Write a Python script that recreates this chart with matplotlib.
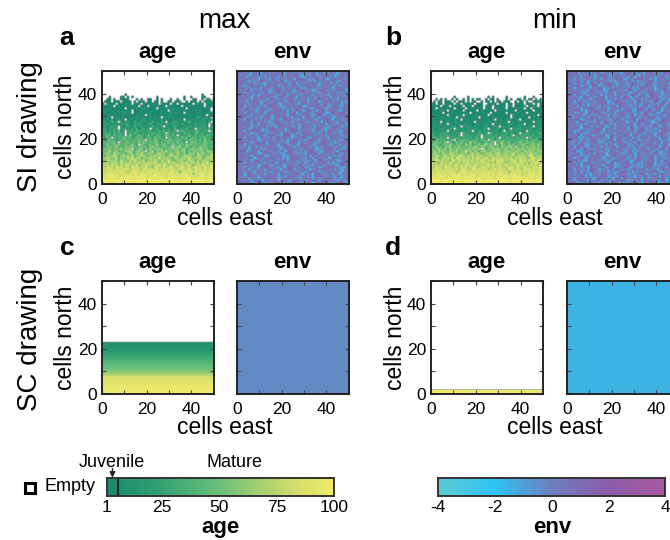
import numpy as np
import matplotlib
matplotlib.use("Agg")
import matplotlib.pyplot as plt
from matplotlib.colors import LinearSegmentedColormap, Normalize
from matplotlib.patches import Rectangle

plt.rcParams["font.family"] = ["Liberation Sans", "DejaVu Sans"]

FIG_W, FIG_H = 670, 540
N_CELLS = 50

# ---------------------------------------------------------------------------
# Landscape snapshots (50 x 50 cells). Strings are listed north (top) to south.
# Age codes: '.' = empty cell, digit d = age 1 + 11*d.  Rows above the list are empty.
si_max_age = [
    "..........0.................................0.....",
    "...0....00.0.0..........0...........0..0....00....",
    "..00.0..0000...0.0..00..0.0...0..0..0...00..0.00.0",
    ".000.000.0000.0.000.00.00.0..00.000..0.000.0.0000.",
    "0.0000.000010.000.0000000.0000.00.000000.0000.0000",
    "00001.0100000000.000.0001000.000000.000100000.0000",
    "0001000000.0000100200000.000000100000.0000010000.0",
    "1000000100000.000100001000000.000000100000010000.0",
    "0100010002100.0001000100001000201000.0100010000100",
    "0010101000010001000.01010010010001000101001000.010",
    "1001.011020001011010010100.101100100101001210110.1",
    "0110201101.0110101210101011010010110.1011010211010",
    "1201312.20121031120211302121.1023110213201121302.1",
    "21310210213201213110231021203122121310201312211.12",
    "1202312.2012103112021130212.1102311021320112130.21",
    "2212132.2231121302312.2131221302312213112.23212312",
    "3212232412.2321423122312232413223.2431322341232.32",
    "2323142332.23242213232423322.423223142322432312322",
    "2343242332.2532343224332432353242.322343242332432",
    "3243.32425343234342343253432.43234253423432435232",
    "3435342343524343534.34354234345343523435343425343",
    "4343543.43453434536434354343453435343.34543435434",
    "3454354634534543.5434534634543454354364535434543",
    "4354546343545643545435645345435.45634543543645434",
    "4546354564565.3456354645565345465545634564565453",
    "5456456354657545645.45635465745456456354564564565",
    "4565475645356546575465546756456547546356547565456",
    "5465676457565745676546575665457656456765547654657",
    "5676567465576856745667656857665476567586566745676",
    "6567566476557686567456676575686456765576646567657",
    "6765767586667576857677686567586765676857667576867",
    "7676867576786768576876767868757678676786567687768",
    "7687768786776878677867487768678767787686787768778",
    "7787868778786787768878778677878776887787687878778",
    "8778787887767888787787887878778878478788787878788",
    "8788878788878788788878788878788878788878587888788",
    "8888988878889888898878898888788898888988878898888",
    "9889898898898988989899889898898989889898989898898",
    "9999899989999899999899989999989999899999899998999",
    "99999999999999999999999999999999999999999999999999",
]

si_min_age = [
    "..................................................",
    "..........0.....0........0.0.....0.......0...0....",
    "..0.0.0..0.0..0.0.0.00..0.00.0...0.0..00.0.00.0.0.",
    ".0.00.000.0.000.0.00..0.00.0.00.000..0.00.0..0000.",
    "00.00.0000.00.00000.000..0000.000.00.0000.000.0.00",
    "0000.000.00000.000.0000.000.00000.00.00000.0000.00",
    "00.0000100.0000.0000000.000.00000.0000100.00.00000",
    "0000100.000000.00000.0100000.00000000.0000000.0000",
    "00010.00010000000.00000100.000100.00001000.0000010",
    "0100000.000100.0000100000.000000010.00001000010.00",
    "00100100200.010000010.0010020100000.1000100.010001",
    "1000101100200.01001010000101.0010120011.0010100101",
    "0110.01210110100101.10101200101011.0101101001.0120",
    "1101201.1011101201011101102.0111011210111.01101110",
    "1211011012101.1121011011201121.11120111211012.1110",
    "1102121121.21120211211012.111211201.1212112120112",
    "2121201.2122112121.2021212212202.122121201.212221",
    "2212132212122.32212123212.3212122312212.22322213",
    "3212322312213.22322132.2232231223213.22233222312",
    "2332323.32332233231332.3233323.32332233232.33232",
    "3243342334.24343423342443.34243342343243434243433",
    "3454436.43253534364534235345.346345234354364453443",
    "4543345364354526453445356454.53643545344653455464",
    "4464435563546354454654653465453645564.53546456454",
    "5456546365465545646556.63546565465456465654656564",
    "5646565465564557564653665465656456655665465665466",
    "5665465567564656367566456665676566567556656675645",
    "6576567567658765767576756686576567567576765786576",
    "6675576767587676757687678658767767685767776587667",
    "6787676758768778677676876778687867677768786778687",
    "7765767587667576857677786767587765677857767576867",
    "7676867776786768776876767868777678676787767687768",
    "7687768786776878677867787768678767787686787768778",
    "7787868778786787768878778677878776887787687878778",
    "8778787887767888787787887878778878578788787878788",
    "8788878788878788788878788878788878788878687888788",
    "8888988878889888898878898888788898888988878898888",
    "9889898898898988989899889898898989889898989898898",
    "9999899989999899999899989999989999899999899998999",
    "99999999999999999999999999999999999999999999999999",
]

# Environment codes: digit d = env value (d - 4.5) / 2.  North (top) to south.
si_max_env = [
    "56645726451657465547625645715646475356264575146657",
    "74556127554466376565147755662443657156675543267564",
    "45671555463727455616647557642165556744765361557446",
    "66547745615564377266544571676553426654711657554463",
    "55764162557764455637715465546655271746566455326674",
    "47556674355216654765574367154455767614557264476551",
    "65415577466537746615564455726667445517664753625576",
    "76654453671665547756264455671337655464575416657445",
    "54766715445566327574456651667745521566744653756615",
    "66527456673455164775546623655744765516674457252665",
    "45675562714476566354771665543675527665441767556327",
    "77456615546657743256645767155466372564677155465547",
    "56674427655651676445537672465561745576635744166575",
    "64551766744265537745616675547662546715576646653427",
    "55766345571667456632774556415674765562774455671653",
    "47615576654427667551347665576215566744761557432665",
    "66457725516674457665245517766455326677415466755742",
    "75564467157652446775561744665267545166744675512766",
    "56726655447615776544662757154665437766512575566744",
    "44675517664456726675541766435576624577165445776651",
    "67554466272556714665775425666177445536774612566475",
    "56617745563746615542776654417665573264577516654467",
    "75466527755644167765436615577442675561747655264457",
    "46675544716675523776644557614666725547716554366715",
    "65547716546672455177665643725566471766542557761644",
    "57765246657154677455624765715566443776215567446657",
    "66415577664252667746515577643665716644527765541766",
    "45766614557762445671667546235776654417756644526775",
    "76654457265517766442577615564476673554617765562446",
    "56627745516654472776665514457762266745571664455736",
    "65544667712557644665371576654427765516774456623575",
    "47766524475661775544632766715546674257765541566744",
    "66715546677542665517754466327765541667755246617756",
    "55466277154467765532677461556774455261776654457165",
    "74655166774425576661547765433766752146576674552466",
    "56772455616677445525716764455627776441566755247765",
    "65446677521665774455167765443527766715546647752566",
    "47765514667732455766142776655446175577664452617765",
    "66554772166455777446251676655437716654472265577641",
    "55647715664477256645571776644352661577445766215567",
    "76615546677425566147766455327716664455772615447766",
    "54477665512766445577136654477265516677445562177654",
    "66725445716677554426617765547732665514477665524176",
    "45566177445627765541766772455664135766774452661577",
    "77445661576654427765516677445625776614456677521664",
    "56617744556627745516674457763265517766445527716654",
    "65524776615544677625517766445572616677544562771566",
    "46677155442677665514776645532766715544667752614577",
    "67455627766155447726655177664425576617744565277164",
    "55766441577625546677145566772455614776654425667715",
]

si_min_env = [
    "65477156642557614667455216677544652776615447567724",
    "47566274455716677542156644775562471665574436657715",
    "76645517766524476651775546627714456675524677164455",
    "55716644775526617745546672155467764452717665447566",
    "64457726615547766452617745566271446657715564762547",
    "77624556617745526677451566247765541677264556617745",
    "46657714552667145577642665517744627765516446772156",
    "65514677442566771545276644557162677445516677425564",
    "57746625517744662157765445267716554476615527744665",
    "44675561277654457166427755641576625477654415667725",
    "66527744615576624457716654427755166247756615446772",
    "75564417766524577164455627761544675527766144567526",
    "56677254461577665244716657554267714465577625416677",
    "47715566447625576614477655264517766442577165546672",
    "66445772615546677425156677445526717654462577164456",
    "55772644615577264456671774552466157724465561774426",
    "76446615577642556714467725564417766254467715564427",
    "45567725146677554627661445577216654477265516644775",
    "67724455166477652445716677445526617744562177654465",
    "54465771664425577615446677256614457762445671664477",
    "77156644527766154467725564416677254466771556442776",
    "46677514456627775441566724475561677445526177664455",
    "65541776644526617754465577216644775562146677554427",
    "56674427155667744652617745566427715664472556617744",
    "74456617774452566127744665527714566442777156644526",
    "45767215564477661554427766516644577265514677644552",
    "66514477625566741554677264455716677442566157764425",
    "57726644155677426654417765562446771564425776615446",
    "64455716677244566217745546671776244556617774452665",
    "47766152447765564417726654457162667745544167725564",
    "76644527715664472556617744652677155446677254416677",
    "55277164456677215544766572445617766445527716654477",
    "66445577126645577264415677624455716677445256617744",
    "47716654427756615446772556644177265544677156642577",
    "75546617744526677154465772446615577426644577165546",
    "56672144667755426617744565277164456677254416677552",
    "64457716655427766145567724466517744562677154466772",
    "47765524416677546215774466552716644577625514667745",
    "66514477265566741577245566417726654467715562447766",
    "55677442156677445261776654452177664455726617744556",
    "76445517766244557716624456771554426677615544677254",
    "45762614457765522667714455766271445567716244557761",
    "66457725516644777256614457762554416677245566177446",
    "57716644527766144556277645516674477254461577665244",
    "64455716627744566715524477665162744557766124456677",
    "47726655441677265544617776524456677154426677544615",
    "75564477162554667714452776655414467725566174455772",
    "56617744556227764455167726644557716624456677155442",
    "65442776615547726644156677524455716677442566157744",
    "46675154726647155642677154436677215546772154466725",
]

# SC drawing: age per row (south row first); env is uniform over the landscape
sc_max_age_rows = [98, 97, 96, 95, 93, 92, 90, 86, 72, 62, 55, 50, 47, 43,
                   38, 33, 28, 24, 19, 15, 12, 10, 9]
sc_min_age_rows = [100, 97]
sc_max_env_level = -0.3
sc_min_env_level = -1.5

map_ticks = [0, 10, 20, 30, 40, 50]
map_tick_labels = ["0", "", "20", "", "40", ""]
age_ticks = [1, 25, 50, 75, 100]
env_ticks = [-4, -2, 0, 2, 4]
juvenile_max = 6

# ---------------------------------------------------------------------------
age_cmap = LinearSegmentedColormap.from_list(
    "age", ["#1b8a6f", "#2a9a71", "#48ad75", "#6cc07a", "#a3cf71", "#d3df6c", "#f1eb6b"])
env_cmap = LinearSegmentedColormap.from_list(
    "env", ["#5ccbd6", "#2fc4f2", "#6e80bf", "#8a5da8", "#ab59a0"])
age_norm = Normalize(age_ticks[0], age_ticks[-1])
env_norm = Normalize(env_ticks[0], env_ticks[-1])

fig = plt.figure(figsize=(FIG_W / 100, FIG_H / 100), dpi=100)


def px_axes(x, y, w, h):
    return fig.add_axes([x / FIG_W, 1 - (y + h) / FIG_H, w / FIG_W, h / FIG_H])


def px_text(x, y, s, **kw):
    kw.setdefault("ha", "center")
    kw.setdefault("va", "baseline")
    fig.text(x / FIG_W, 1 - y / FIG_H, s, **kw)


def fit_row(code):
    """Trim or extend a row code to exactly N_CELLS characters."""
    filled = code.rstrip(".")
    pad = filled[-1] if filled else "."
    return code[:N_CELLS].ljust(N_CELLS, pad)


def decode_age(rows):
    grid = np.full((N_CELLS, N_CELLS), np.nan)
    for r, code in enumerate(reversed(rows)):
        for c, ch in enumerate(fit_row(code)):
            if ch != ".":
                grid[r, c] = 1 + 11 * int(ch)
    return grid


def decode_env(rows):
    grid = np.zeros((N_CELLS, N_CELLS))
    for r, code in enumerate(reversed(rows)):
        grid[r] = [(int(ch) - 4.5) / 2 for ch in fit_row(code)]
    return grid


def profile_grid(profile):
    grid = np.full((N_CELLS, N_CELLS), np.nan)
    for r, v in enumerate(profile):
        grid[r, :] = v
    return grid


def uniform_grid(level):
    return np.full((N_CELLS, N_CELLS), level)


def draw_map(x, y, grid, cmap, norm, left_labels):
    ax = px_axes(x, y, 112, 113)
    ax.imshow(grid, origin="lower", extent=(0, N_CELLS, 0, N_CELLS), cmap=cmap,
              norm=norm, interpolation="antialiased", aspect="auto")
    ax.set_xlim(0, N_CELLS)
    ax.set_ylim(0, N_CELLS)
    ax.set_xticks(map_ticks, map_tick_labels)
    ax.set_yticks(map_ticks, map_tick_labels if left_labels else [""] * len(map_ticks))
    ax.tick_params(direction="in", top=True, right=True, length=3, width=0.8,
                   color="#444444", labelsize=12.5)
    ax.tick_params(axis="x", pad=5.5)
    ax.tick_params(axis="y", pad=3.4)
    for sp in ax.spines.values():
        sp.set_linewidth(1.4)
        sp.set_color("#222222")
    return ax


rows_y = [71, 281]
cols_x = [101.7, 236.7, 431.0, 566.7]

draw_map(cols_x[0], rows_y[0], decode_age(si_max_age), age_cmap, age_norm, True)
draw_map(cols_x[1], rows_y[0], decode_env(si_max_env), env_cmap, env_norm, False)
draw_map(cols_x[2], rows_y[0], decode_age(si_min_age), age_cmap, age_norm, True)
draw_map(cols_x[3], rows_y[0], decode_env(si_min_env), env_cmap, env_norm, False)
draw_map(cols_x[0], rows_y[1], profile_grid(sc_max_age_rows), age_cmap, age_norm, True)
draw_map(cols_x[1], rows_y[1], uniform_grid(sc_max_env_level), env_cmap, env_norm, False)
draw_map(cols_x[2], rows_y[1], profile_grid(sc_min_age_rows), age_cmap, age_norm, True)
draw_map(cols_x[3], rows_y[1], uniform_grid(sc_min_env_level), env_cmap, env_norm, False)

# Column headers, panel letters, titles and axis labels
px_text(224, 28, "max", fontsize=20)
px_text(555, 28, "min", fontsize=20)
for letter, lx, ly in [("a", 67, 45), ("b", 393, 45), ("c", 67, 255), ("d", 393, 255)]:
    px_text(lx, ly, letter, fontsize=19, fontweight="bold")
for base_y in (58, 268):
    for cx, name in [(157.7, "age"), (292.7, "env"), (487, "age"), (622.7, "env")]:
        px_text(cx, base_y, name, fontsize=16, fontweight="bold")
for cy, east_y in [(127, 225), (338, 434)]:
    for lx, ex in [(66, 225), (396, 555)]:
        px_text(lx, cy, "cells north", fontsize=16.5, rotation=90, va="center")
        px_text(ex, east_y, "cells east", fontsize=16.5)
px_text(30, 127, "SI drawing", fontsize=20, rotation=90, va="center")
px_text(30, 339, "SC drawing", fontsize=20, rotation=90, va="center")


# Colour bars
def draw_bar(x, lo, hi, cmap, norm, ticks, label, label_x):
    ax = px_axes(x, 477.7, 227, 18.3)
    ramp = np.linspace(lo, hi, 512)[np.newaxis, :]
    ax.imshow(ramp, extent=(lo, hi, 0, 1), aspect="auto", cmap=cmap, norm=norm,
              interpolation="bilinear")
    ax.set_xlim(lo, hi)
    ax.set_ylim(0, 1)
    ax.set_xticks(ticks, [str(t) for t in ticks])
    ax.set_yticks([])
    ax.tick_params(length=0, labelsize=12.5, pad=3.0)
    for sp in ax.spines.values():
        sp.set_linewidth(1.4)
        sp.set_color("#333333")
    px_text(label_x, 533, label, fontsize=16, fontweight="bold")
    return ax


age_ax = draw_bar(106.7, age_ticks[0], age_ticks[-1], age_cmap, age_norm, age_ticks, "age", 220)
age_ax.axvspan(age_ticks[0], juvenile_max, color=age_cmap(0.0), lw=0)
age_ax.axvline(juvenile_max, color="#222222", lw=1.4)
juv_mid = (age_ticks[0] + juvenile_max) / 2
age_ax.annotate("", xy=(juv_mid, 1.0), xytext=(juv_mid, 1.5),
                arrowprops=dict(arrowstyle="-|>", color="#222222", lw=1.0,
                                mutation_scale=8, shrinkA=0, shrinkB=0),
                annotation_clip=False)
px_text(112, 467, "Juvenile", fontsize=13)
px_text(235, 467, "Mature", fontsize=13)
fig.add_artist(Rectangle((25 / FIG_W, 1 - 493 / FIG_H), 10 / FIG_W, 10 / FIG_H,
                         transform=fig.transFigure, fill=False, lw=2.2, ec="black"))
px_text(45, 491, "Empty", fontsize=13, ha="left")

draw_bar(438.3, env_ticks[0], env_ticks[-1], env_cmap, env_norm, env_ticks, "env", 552)

fig.savefig("out.png", dpi=100)
